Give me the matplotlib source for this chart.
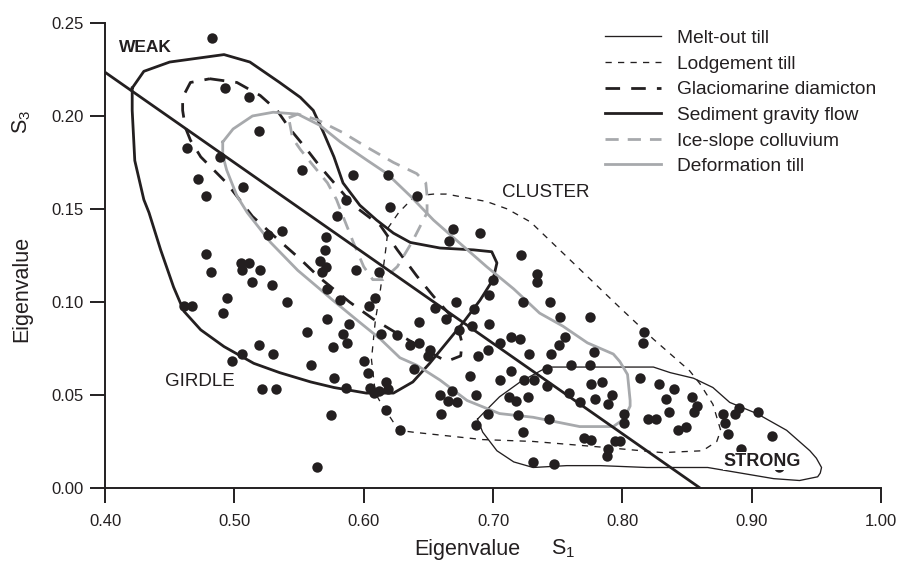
import matplotlib
matplotlib.use("Agg")
import matplotlib.pyplot as plt

# fabric eigenvalues (S1, S3) of the individual samples
s1_vals = [0.483, 0.493, 0.511, 0.519, 0.463, 0.489, 0.472, 0.507, 0.478, 0.552,
           0.592, 0.619, 0.641, 0.586, 0.620, 0.526, 0.537, 0.478, 0.482, 0.505,
           0.511, 0.506, 0.520, 0.514, 0.529, 0.494, 0.461, 0.467, 0.491, 0.541,
           0.556, 0.519, 0.506, 0.530, 0.498, 0.559, 0.521, 0.532, 0.579, 0.669,
           0.690, 0.666, 0.571, 0.570, 0.566, 0.571, 0.568, 0.594, 0.612, 0.722,
           0.734, 0.734, 0.572, 0.582, 0.609, 0.604, 0.700, 0.697, 0.671, 0.655,
           0.685, 0.723, 0.572, 0.589, 0.643, 0.664, 0.684, 0.697, 0.674, 0.584,
           0.587, 0.613, 0.626, 0.636, 0.643, 0.651, 0.650, 0.576, 0.705, 0.714,
           0.721, 0.696, 0.688, 0.728, 0.600, 0.603, 0.639, 0.577, 0.682, 0.714,
           0.705, 0.724, 0.732, 0.586, 0.605, 0.617, 0.612, 0.619, 0.608, 0.659,
           0.668, 0.687, 0.712, 0.727, 0.744, 0.752, 0.775, 0.817, 0.816, 0.756,
           0.751, 0.745, 0.778, 0.742, 0.760, 0.775, 0.742, 0.776, 0.784, 0.814,
           0.828, 0.840, 0.759, 0.779, 0.792, 0.854, 0.834, 0.575, 0.617, 0.628,
           0.564, 0.665, 0.672, 0.660, 0.718, 0.696, 0.687, 0.719, 0.723, 0.743,
           0.767, 0.770, 0.776, 0.731, 0.747, 0.789, 0.801, 0.801, 0.794, 0.798,
           0.789, 0.788, 0.858, 0.855, 0.836, 0.820, 0.826, 0.849, 0.843, 0.878,
           0.879, 0.882, 0.887, 0.890, 0.905, 0.916, 0.921, 0.892]
s3_vals = [0.242, 0.215, 0.210, 0.192, 0.183, 0.178, 0.166, 0.162, 0.157, 0.171,
           0.168, 0.168, 0.157, 0.155, 0.151, 0.136, 0.138, 0.126, 0.116, 0.121,
           0.121, 0.117, 0.117, 0.111, 0.109, 0.102, 0.098, 0.098, 0.094, 0.100,
           0.084, 0.077, 0.072, 0.072, 0.068, 0.066, 0.053, 0.053, 0.146, 0.139,
           0.137, 0.133, 0.135, 0.128, 0.122, 0.119, 0.116, 0.117, 0.116, 0.125,
           0.115, 0.111, 0.107, 0.101, 0.102, 0.098, 0.112, 0.104, 0.100, 0.097,
           0.096, 0.100, 0.091, 0.088, 0.089, 0.091, 0.087, 0.088, 0.085, 0.083,
           0.078, 0.083, 0.082, 0.077, 0.078, 0.074, 0.071, 0.076, 0.078, 0.081,
           0.080, 0.074, 0.071, 0.072, 0.068, 0.062, 0.064, 0.059, 0.060, 0.063,
           0.058, 0.058, 0.058, 0.054, 0.054, 0.057, 0.052, 0.053, 0.051, 0.050,
           0.052, 0.050, 0.049, 0.049, 0.100, 0.092, 0.092, 0.084, 0.078, 0.081,
           0.077, 0.072, 0.073, 0.064, 0.066, 0.066, 0.055, 0.056, 0.057, 0.059,
           0.056, 0.053, 0.051, 0.048, 0.050, 0.049, 0.048, 0.039, 0.042, 0.031,
           0.011, 0.047, 0.046, 0.040, 0.047, 0.040, 0.034, 0.039, 0.030, 0.037,
           0.046, 0.027, 0.026, 0.014, 0.013, 0.045, 0.040, 0.035, 0.025, 0.025,
           0.021, 0.017, 0.044, 0.041, 0.041, 0.037, 0.037, 0.033, 0.031, 0.040,
           0.035, 0.029, 0.040, 0.043, 0.041, 0.028, 0.011, 0.021]

# envelope outlines for each deposit type (S1 list, S3 list)
meltout_s1 = [0.688, 0.695, 0.705, 0.721, 0.742, 0.767, 0.824, 0.837, 0.855, 0.870,
              0.883, 0.904, 0.927, 0.945, 0.950, 0.954, 0.953, 0.951, 0.937, 0.917,
              0.883, 0.866, 0.819, 0.783, 0.757, 0.731, 0.716, 0.703, 0.692]
meltout_s3 = [0.037, 0.042, 0.049, 0.057, 0.065, 0.065, 0.065, 0.062, 0.059, 0.054,
              0.046, 0.040, 0.031, 0.020, 0.016, 0.011, 0.008, 0.006, 0.004, 0.005,
              0.009, 0.011, 0.011, 0.012, 0.012, 0.011, 0.014, 0.020, 0.030]

lodgement_s1 = [0.640, 0.654, 0.664, 0.695, 0.711, 0.729, 0.762, 0.798, 0.824, 0.852,
                0.860, 0.870, 0.876, 0.873, 0.862, 0.831, 0.783, 0.731, 0.692, 0.638,
                0.627, 0.613, 0.609, 0.606, 0.609, 0.613, 0.617, 0.619, 0.627, 0.634]
lodgement_s3 = [0.157, 0.158, 0.158, 0.154, 0.150, 0.143, 0.121, 0.097, 0.080, 0.063,
                0.056, 0.045, 0.031, 0.025, 0.020, 0.019, 0.022, 0.025, 0.026, 0.030,
                0.031, 0.046, 0.051, 0.069, 0.090, 0.107, 0.128, 0.140, 0.148, 0.153]

glacio_s1 = [0.481, 0.502, 0.520, 0.533, 0.543, 0.556, 0.566, 0.592, 0.613, 0.626,
             0.641, 0.654, 0.672, 0.676, 0.675, 0.664, 0.651, 0.626, 0.607, 0.589,
             0.566, 0.551, 0.533, 0.514, 0.494, 0.474, 0.466, 0.462, 0.460, 0.460,
             0.466]
glacio_s3 = [0.220, 0.218, 0.211, 0.203, 0.193, 0.182, 0.173, 0.152, 0.141, 0.128,
             0.114, 0.103, 0.089, 0.078, 0.071, 0.068, 0.073, 0.083, 0.091, 0.100,
             0.113, 0.123, 0.134, 0.146, 0.164, 0.178, 0.187, 0.194, 0.203, 0.210,
             0.218]

gravity_s1 = [0.421, 0.430, 0.450, 0.492, 0.512, 0.535, 0.551, 0.561, 0.569, 0.577,
              0.584, 0.597, 0.610, 0.623, 0.636, 0.659, 0.685, 0.699, 0.703, 0.700,
              0.690, 0.677, 0.664, 0.651, 0.638, 0.623, 0.602, 0.577, 0.559, 0.535,
              0.515, 0.492, 0.474, 0.461, 0.453, 0.443, 0.434, 0.430, 0.423, 0.421]
gravity_s3 = [0.215, 0.224, 0.229, 0.233, 0.229, 0.218, 0.210, 0.203, 0.191, 0.178,
              0.164, 0.152, 0.144, 0.137, 0.132, 0.129, 0.128, 0.127, 0.121, 0.112,
              0.101, 0.089, 0.078, 0.067, 0.057, 0.051, 0.051, 0.054, 0.057, 0.062,
              0.067, 0.076, 0.085, 0.095, 0.108, 0.128, 0.148, 0.155, 0.176, 0.203]

iceslope_s1 = [0.542, 0.549, 0.564, 0.584, 0.603, 0.623, 0.641, 0.648, 0.649, 0.649,
               0.638, 0.626, 0.615, 0.607, 0.600, 0.592, 0.584, 0.579, 0.572, 0.559,
               0.551, 0.545]
iceslope_s3 = [0.199, 0.201, 0.198, 0.191, 0.183, 0.175, 0.169, 0.164, 0.157, 0.148,
               0.133, 0.119, 0.112, 0.112, 0.119, 0.132, 0.146, 0.155, 0.164, 0.175,
               0.182, 0.188]

deform_s1 = [0.491, 0.499, 0.514, 0.530, 0.549, 0.566, 0.582, 0.603, 0.618, 0.636,
             0.654, 0.672, 0.695, 0.716, 0.736, 0.754, 0.773, 0.793, 0.798, 0.804,
             0.806, 0.806, 0.801, 0.793, 0.767, 0.731, 0.705, 0.680, 0.659, 0.641,
             0.628, 0.613, 0.597, 0.576, 0.566, 0.549, 0.528, 0.510, 0.502, 0.494,
             0.491]
deform_s3 = [0.186, 0.193, 0.200, 0.202, 0.201, 0.195, 0.186, 0.176, 0.169, 0.157,
             0.144, 0.133, 0.119, 0.107, 0.094, 0.087, 0.078, 0.072, 0.068, 0.061,
             0.047, 0.044, 0.037, 0.033, 0.033, 0.038, 0.040, 0.047, 0.058, 0.066,
             0.070, 0.080, 0.089, 0.101, 0.107, 0.117, 0.132, 0.148, 0.157, 0.171,
             0.179]

# girdle -> cluster reference line
trend_s1 = [0.40, 0.86]
trend_s3 = [0.2235, 0.0]

x_ticks = [0.40, 0.50, 0.60, 0.70, 0.80, 0.90, 1.00]
y_ticks = [0.00, 0.05, 0.10, 0.15, 0.20, 0.25]

INK = '#231f20'
GREY = '#a7a9ac'


def closed(xs, ys):
    return list(xs) + [xs[0]], list(ys) + [ys[0]]


def plot_fabric():
    plt.rcParams['font.family'] = ['Liberation Sans', 'DejaVu Sans']
    plt.rcParams['mathtext.default'] = 'regular'
    plt.rcParams['lines.scale_dashes'] = False

    fig = plt.figure(figsize=(8.97, 5.63), dpi=100)
    ax = fig.add_axes([0.1171, 0.1333, 0.8651, 0.8259])

    kw = dict(solid_joinstyle='round', dash_joinstyle='round', dash_capstyle='butt')
    x, y = closed(meltout_s1, meltout_s3)
    ax.plot(x, y, color=INK, lw=0.95, label='Melt-out till', **kw)
    x, y = closed(lodgement_s1, lodgement_s3)
    ax.plot(x, y, color=INK, lw=0.95, ls=(0, (4.5, 4.5)), label='Lodgement till', **kw)
    x, y = closed(glacio_s1, glacio_s3)
    ax.plot(x, y, color=INK, lw=2.0, ls=(0, (10.5, 8)), label='Glaciomarine diamicton', **kw)
    x, y = closed(gravity_s1, gravity_s3)
    ax.plot(x, y, color=INK, lw=2.0, label='Sediment gravity flow', **kw)
    x, y = closed(iceslope_s1, iceslope_s3)
    ax.plot(x, y, color=GREY, lw=2.0, ls=(0, (9.5, 6.5)), label='Ice-slope colluvium', **kw)
    x, y = closed(deform_s1, deform_s3)
    ax.plot(x, y, color=GREY, lw=2.0, label='Deformation till', **kw)

    ax.plot(trend_s1, trend_s3, color=INK, lw=2.0, solid_capstyle='butt')
    ax.plot(s1_vals, s3_vals, 'o', color=INK, ms=7.5, mec='none', zorder=5)

    ax.text(0.4313, 0.2346, 'WEAK', fontsize=12.5, fontweight='bold', color=INK, ha='center')
    ax.text(0.7406, 0.1566, 'CLUSTER', fontsize=13.5, color=INK, ha='center')
    ax.text(0.4735, 0.0548, 'GIRDLE', fontsize=13.5, color=INK, ha='center')
    ax.text(0.908, 0.0120, 'STRONG', fontsize=13, fontweight='bold', color=INK, ha='center',
            zorder=6, bbox=dict(facecolor='white', edgecolor='none', pad=0.5))

    ax.set_xlim(0.40, 1.00)
    ax.set_ylim(0.00, 0.25)
    ax.set_xticks(x_ticks)
    ax.set_yticks(y_ticks)
    ax.set_xticklabels([f'{v:.2f}' for v in x_ticks])
    ax.set_yticklabels([f'{v:.2f}' for v in y_ticks])
    for side in ['top', 'right']:
        ax.spines[side].set_visible(False)
    for side in ['left', 'bottom']:
        ax.spines[side].set_linewidth(1.4)
        ax.spines[side].set_color(INK)
    ax.tick_params(axis='both', length=10.5, width=1.4, color=INK, labelsize=12, labelcolor=INK)
    ax.tick_params(axis='x', pad=8)
    ax.tick_params(axis='y', pad=5)

    leg = ax.legend(loc='upper left', bbox_to_anchor=(0.644, 0.986), frameon=False,
                    fontsize=13.8, handlelength=2.95, handletextpad=0.8,
                    labelspacing=0.43, borderpad=0, borderaxespad=0)
    for t in leg.get_texts():
        t.set_color(INK)

    # axis titles
    fig.text(467 / 897, 1 - 549 / 563, 'Eigenvalue', fontsize=15.5, color=INK,
             ha='center', va='center')
    fig.text(563 / 897, 1 - 549 / 563, 'S$_1$', fontsize=15.5, color=INK,
             ha='center', va='center')
    fig.text(22 / 897, 1 - 289 / 563, 'Eigenvalue', fontsize=15.5, color=INK,
             ha='center', va='center', rotation=90)
    fig.text(22 / 897, 1 - 122 / 563, 'S$_3$', fontsize=15.5, color=INK,
             ha='center', va='center', rotation=90)

    fig.savefig('out.png', dpi=100)


def main():
    plot_fabric()


if __name__ == "__main__":
    main()
